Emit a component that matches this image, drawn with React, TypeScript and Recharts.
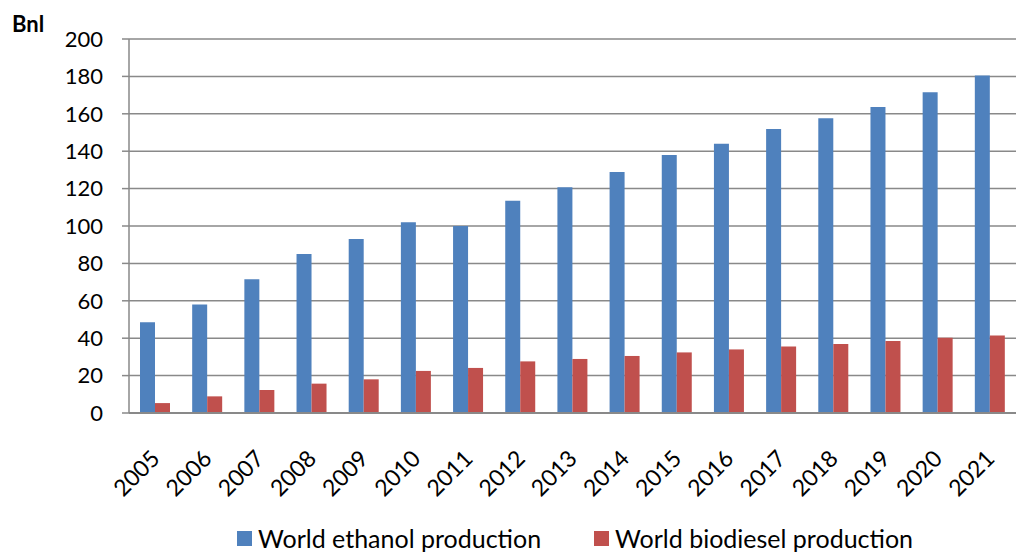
import React from 'react'
import { BarChart, Bar, XAxis, YAxis, CartesianGrid, Legend } from 'recharts'

const years = ['2005', '2006', '2007', '2008', '2009', '2010', '2011', '2012', '2013', '2014', '2015', '2016', '2017', '2018', '2019', '2020', '2021']
const ethanol = [48.5, 58, 71.5, 85, 93, 102, 100, 113.5, 120.7, 128.9, 138, 144, 151.9, 157.6, 163.6, 171.5, 180.5]
const biodiesel = [5.3, 8.9, 12.3, 15.7, 18, 22.5, 24.1, 27.6, 28.9, 30.5, 32.4, 34, 35.5, 36.9, 38.5, 40.3, 41.5]
const yTicks = [0, 20, 40, 60, 80, 100, 120, 140, 160, 180, 200]

const data = years.map((year, i) => ({ year, ethanol: ethanol[i], biodiesel: biodiesel[i] }))

const FONT = 'Lato, "Open Sans", sans-serif'
const GRID = '#898989'

const YearTick = ({ x, y, payload }: any) => (
  <text
    x={x - 7}
    y={y + 26}
    transform={`rotate(-45, ${x - 7}, ${y + 26})`}
    textAnchor="end"
    dominantBaseline="hanging"
    fontFamily={FONT}
    fontSize={23}
    fill="#000"
  >
    {payload.value}
  </text>
)

const LegendContent = () => {
  const items = [
    { name: 'World ethanol production', color: '#4F81BD' },
    { name: 'World biodiesel production', color: '#C0504D' }
  ]
  return (
    <div style={{ display: 'flex', paddingLeft: 237, gap: 53, fontFamily: FONT, fontSize: 25, color: '#000' }}>
      {items.map((item) => (
        <div key={item.name} style={{ display: 'flex', alignItems: 'center' }}>
          <span style={{ display: 'inline-block', width: 15, height: 15, background: item.color, marginRight: 6 }} />
          <span>{item.name}</span>
        </div>
      ))}
    </div>
  )
}

export default function App() {
  return (
    <div style={{ position: 'absolute', left: 0, top: 0, width: 1016, height: 553, background: '#fff' }}>
      <BarChart
        width={1016}
        height={553}
        data={data}
        margin={{ top: 39, right: 0, left: 0, bottom: 0 }}
        barGap={0}
        barSize={15}
      >
        <CartesianGrid vertical={false} stroke={GRID} strokeWidth={1.5} />
        <XAxis
          dataKey="year"
          height={140}
          tick={<YearTick />}
          tickLine={false}
          axisLine={{ stroke: GRID, strokeWidth: 2 }}
          interval={0}
        />
        <YAxis
          width={129}
          domain={[0, 200]}
          ticks={yTicks}
          tickSize={7}
          tickMargin={19}
          tickLine={{ stroke: GRID, strokeWidth: 1.5 }}
          axisLine={{ stroke: GRID, strokeWidth: 1.5 }}
          tick={{ fontFamily: FONT, fontSize: 22, fill: '#000' }}
          label={{
            content: () => (
              <text x={12} y={32} fontFamily={FONT} fontSize={22} fontWeight="bold" fill="#000">
                Bnl
              </text>
            )
          }}
        />
        <Legend
          verticalAlign="middle"
          align="center"
          layout="horizontal"
          content={<LegendContent />}
          wrapperStyle={{ top: 523, left: 0, width: 1016 }}
        />
        <Bar dataKey="ethanol" name="World ethanol production" fill="#4F81BD" isAnimationActive={false} />
        <Bar dataKey="biodiesel" name="World biodiesel production" fill="#C0504D" isAnimationActive={false} />
      </BarChart>
    </div>
  )
}
